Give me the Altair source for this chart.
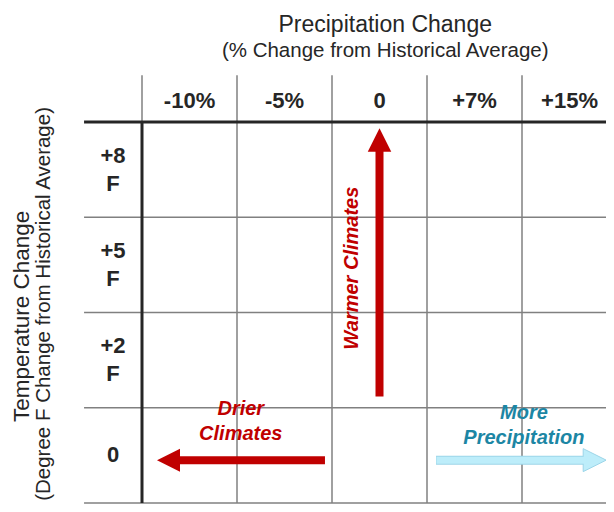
import altair as alt
import pandas as pd

# ---- content ----
cols = ["-10%", "-5%", "0", "+7%", "+15%"]
rows = ["+8\nF", "+5\nF", "+2\nF", "0"]
prec_title = "Precipitation Change"
prec_sub = "(% Change from Historical Average)"
temp_title = "Temperature Change"
temp_sub = "(Degree F Change from Historical Average)"
warm_label = "Warmer Climates"
drier_label = "Drier\nClimates"
more_label = "More\nPrecipitation"

FONT = "Liberation Sans"
RED = "#C00000"
TEAL = "#1C86A4"
LIGHT = "#BDEDFA"
LIGHT_EDGE = "#9CD5E8"
DARK = "#262626"
GRAY = "#808080"

# layout in grid units (one cell = 1 x 1)
HEADER_TOP = -0.49
LABEL_LEFT = -0.61
nc, nr = len(cols), len(rows)

xs = alt.Scale(domain=[0, nc], range=[134, 609], nice=False, zero=False)
ys = alt.Scale(domain=[0, nr], range=[114, 495], nice=False, zero=False)
ROW_PX = (495 - 114) / nr

def X(f):
    return alt.X(f, type="quantitative", scale=xs, axis=None)

def Y(f):
    return alt.Y(f, type="quantitative", scale=ys, axis=None)

# ---- grid lines ----
thin, thick = [], []
for j in range(1, nr + 1):
    thin.append(dict(x=LABEL_LEFT, x2=nc, y=j, y2=j))
thick.append(dict(x=LABEL_LEFT, x2=nc, y=0, y2=0))
for i in range(1, nc + 1):
    thin.append(dict(x=i, x2=i, y=HEADER_TOP, y2=nr))
thin.append(dict(x=0, x2=0, y=HEADER_TOP, y2=0))
thick.append(dict(x=0, x2=0, y=0, y2=nr))

def rules(d, color, w):
    return alt.Chart(pd.DataFrame(d)).mark_rule(color=color, strokeWidth=w).encode(
        x=X("x"), x2="x2", y=Y("y"), y2="y2")

thin_layer = rules(thin, GRAY, 1.5)
thick_layer = rules(thick, DARK, 3)

# ---- header / row labels ----
ROW_LH = 28
col_df = pd.DataFrame({"label": cols, "x": [i + 0.5 for i in range(nc)], "y": [-0.225] * nc})
row_df = pd.DataFrame({
    "label": rows,
    "x": [-0.305] * nr,
    "y": [j + 0.5 - (r.count("\n")) * ROW_LH / 2 / ROW_PX for j, r in enumerate(rows)],
})

col_layer = alt.Chart(col_df).mark_text(font=FONT, fontSize=22, fontWeight="bold", color=DARK,
                                        align="center", baseline="middle").encode(
    x=X("x"), y=Y("y"), text="label:N")
row_layer = alt.Chart(row_df).mark_text(font=FONT, fontSize=22, fontWeight="bold", color=DARK,
                                        align="center", baseline="middle", lineBreak="\n",
                                        lineHeight=ROW_LH).encode(
    x=X("x"), y=Y("y"), text="label:N")

# ---- titles ----
def txt(text, x, y, **kw):
    return alt.Chart(pd.DataFrame({"t": [text], "x": [x], "y": [y]})).mark_text(**kw).encode(
        x=X("x"), y=Y("y"), text="t:N")

t1 = txt(prec_title, 2.56, -0.95, font=FONT, fontSize=23, color=DARK, align="center", baseline="alphabetic")
t2 = txt(prec_sub, 2.56, -0.68, font=FONT, fontSize=20.5, color=DARK, align="center", baseline="alphabetic")
t3 = txt(temp_title, -1.19, 2.04, font=FONT, fontSize=22.5, color=DARK, align="center",
         baseline="alphabetic", angle=270)
t4 = txt(temp_sub, -0.97, 1.91, font=FONT, fontSize=20.5, color=DARK, align="center",
         baseline="alphabetic", angle=270)

# ---- arrows ----
UP = "M0,-1L1,1L-1,1Z"
LEFT = "M-1,0L1,-1L1,1Z"
RIGHT = "M1,0L-1,-1L-1,1Z"

def shaft(x, x2, y, y2, color, w):
    return alt.Chart(pd.DataFrame({"x": [x], "x2": [x2], "y": [y], "y2": [y2]})).mark_rule(
        color=color, strokeWidth=w, strokeCap="butt").encode(x=X("x"), x2="x2", y=Y("y"), y2="y2")

def head(hx, hy, shape, color, size, stroke=None):
    kw = dict(shape=shape, filled=True, fill=color, opacity=1, size=size)
    if stroke:
        kw.update(stroke=stroke, strokeWidth=1)
    else:
        kw.update(strokeWidth=0)
    return alt.Chart(pd.DataFrame({"x": [hx], "y": [hy]})).mark_point(**kw).encode(
        x=X("x"), y=Y("y"))

a_warm = [shaft(2.5, 2.5, 2.883, 0.30, RED, 8), head(2.5, 0.188, UP, RED, 552)]
a_dry = [shaft(1.926, 0.37, 3.55, 3.55, RED, 8), head(0.279, 3.55, LEFT, RED, 529)]
a_more = [
    shaft(3.095, 4.66, 3.55, 3.55, LIGHT_EDGE, 9),
    head(4.765, 3.55, RIGHT, LIGHT, 529, stroke=LIGHT_EDGE),
    shaft(3.1, 4.68, 3.55, 3.55, LIGHT, 7),
]

l_warm = txt(warm_label, 2.21, 1.535, font=FONT, fontSize=20, fontWeight="bold", fontStyle="italic",
             color=RED, align="center", baseline="middle", angle=270)
l_dry = txt(drier_label, 1.04, 3.008, font=FONT, fontSize=20, fontWeight="bold", fontStyle="italic",
            color=RED, align="center", baseline="middle", lineBreak="\n", lineHeight=25)
l_more = txt(more_label, 4.02, 3.06, font=FONT, fontSize=20, fontWeight="bold", fontStyle="italic",
             color=TEAL, align="center", baseline="middle", lineBreak="\n", lineHeight=25)

chart = alt.layer(
    thin_layer, thick_layer, col_layer, row_layer, t1, t2, t3, t4,
    *a_warm, *a_dry, *a_more, l_warm, l_dry, l_more
).properties(
    width=598, height=496, padding=0, autosize="none", background="white"
).configure_view(stroke=None)

chart.save("out.html", embed_options={"renderer": "svg", "actions": False})
